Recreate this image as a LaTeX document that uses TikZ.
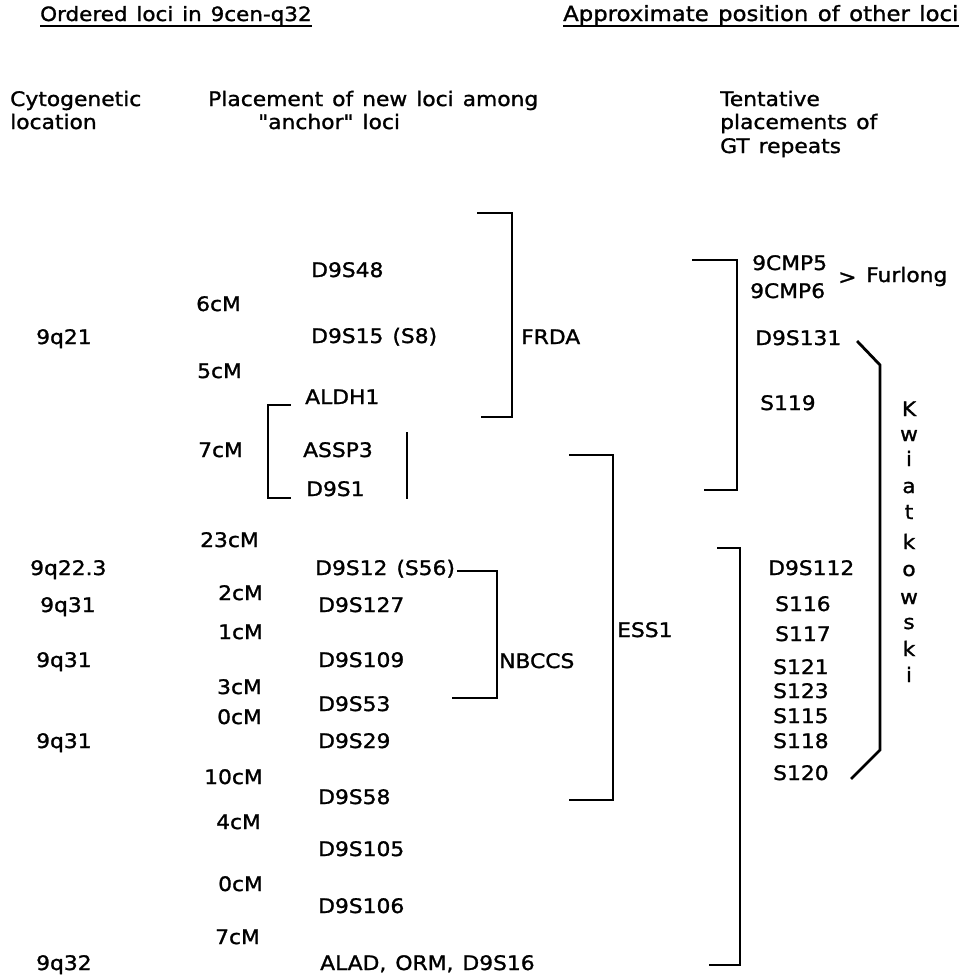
\documentclass[tikz,border=0pt]{standalone}
\usepackage{fontspec}
\setmainfont{DejaVu Sans}[Ligatures=TeXOff,FakeStretch=1.09,FakeBold=1.3,WordSpace=1.3]
\begin{document}
\begin{tikzpicture}[x=1pt,y=-1pt,
  lbl/.style={anchor=base west, inner sep=0pt, font=\fontsize{20}{24}\selectfont},
  ctr/.style={anchor=base, inner sep=0pt, font=\fontsize{20}{24}\selectfont},
  brk/.style={line width=2.8pt, line cap=rect},
  uline/.style={line width=2pt}]
\useasboundingbox (0,0) rectangle (969,975);
% headings
\node[lbl, font=\fontsize{19.7}{24}\selectfont] (h1) at (40,21) {Ordered loci in 9cen-q32};
\path (h1.base west) ++(0,4.5) coordinate (u1a) (h1.base east) ++(0,4.5) coordinate (u1b);
\draw[uline] (u1a) -- (u1b);
\node[lbl, font=\fontsize{20.9}{24}\selectfont] (h2) at (563,21) {Approximate position of other loci};
\path (h2.base west) ++(0,4.5) coordinate (u2a) (h2.base east) ++(0,4.5) coordinate (u2b);
\draw[uline] (u2a) -- (u2b);
% column headers
\node[lbl] (c1a) at (10,106) {Cytogenetic};
\node[lbl] (c1b) at (10,129) {location};
\node[lbl] (c2a) at (208,106) {Placement of new loci among};
\node[lbl] (c2b) at (258,129) {"anchor" loci};
\node[lbl] (c3a) at (720,106) {Tentative};
\node[lbl] (c3b) at (720,129) {placements of};
\node[lbl] (c3c) at (720,153) {GT repeats};
% cytogenetic
\node[lbl] (q21) at (36,344) {9q21};
\node[lbl] (q223) at (30,575) {9q22.3};
\node[lbl] (q31a) at (40,612) {9q31};
\node[lbl] (q31b) at (36,667) {9q31};
\node[lbl] (q31c) at (36,748) {9q31};
\node[lbl] (q32) at (36,970) {9q32};
% distances
\node[lbl] (d6) at (196,311) {6cM};
\node[lbl] (d5) at (197,378) {5cM};
\node[lbl] (d7a) at (198,457) {7cM};
\node[lbl] (d23) at (200,547) {23cM};
\node[lbl] (d2) at (218,600) {2cM};
\node[lbl] (d1) at (218,639) {1cM};
\node[lbl] (d3) at (217,694) {3cM};
\node[lbl] (d0a) at (217,724) {0cM};
\node[lbl] (d10) at (204,784) {10cM};
\node[lbl] (d4) at (216,829) {4cM};
\node[lbl] (d0b) at (218,891) {0cM};
\node[lbl] (d7b) at (215,944) {7cM};
% loci
\node[lbl] (D48) at (311,277) {D9S48};
\node[lbl] (D15) at (311,343) {D9S15 (S8)};
\node[lbl] (ALDH) at (305,404) {ALDH1};
\node[lbl] (ASSP) at (303,457) {ASSP3};
\node[lbl] (D1) at (306,496) {D9S1};
\node[lbl] (D12) at (315,575) {D9S12 (S56)};
\node[lbl] (D127) at (318,612) {D9S127};
\node[lbl] (D109) at (318,667) {D9S109};
\node[lbl] (D53) at (318,711) {D9S53};
\node[lbl] (D29) at (318,748) {D9S29};
\node[lbl] (D58) at (318,804) {D9S58};
\node[lbl] (D105) at (318,856) {D9S105};
\node[lbl] (D106) at (318,913) {D9S106};
\node[lbl] (ALAD) at (320,970) {ALAD, ORM, D9S16};
% gene labels
\node[lbl] (FRDA) at (521,344) {FRDA};
\node[lbl] (NBCCS) at (499,668) {NBCCS};
\node[lbl] (ESS) at (617,637) {ESS1};
% brackets middle
\draw[brk] (290,405) -- (268,405) -- (268,498) -- (290,498);
\draw[brk] (407,433) -- (407,498);
\draw[brk] (478,213) -- (512,213) -- (512,417) -- (482,417);
\draw[brk] (458,571) -- (497,571) -- (497,698) -- (453,698);
\draw[brk] (570,455) -- (613,455) -- (613,800) -- (570,800);
% right column
\node[lbl] (C5) at (752,270) {9CMP5};
\node[lbl] (C6) at (750,298) {9CMP6};
\node[lbl] (gt) at (838,284) {>};
\node[lbl] (Fur) at (866,282) {Furlong};
\node[lbl] (D131) at (755,345) {D9S131};
\node[lbl] (S119) at (760,410) {S119};
\node[lbl] (D112) at (768,575) {D9S112};
\node[lbl] (S116) at (775,611) {S116};
\node[lbl] (S117) at (775,641) {S117};
\node[lbl] (S121) at (773,674) {S121};
\node[lbl] (S123) at (773,698) {S123};
\node[lbl] (S115) at (773,723) {S115};
\node[lbl] (S118) at (773,748) {S118};
\node[lbl] (S120) at (773,780) {S120};
\draw[brk] (693,260) -- (737,260) -- (737,490) -- (705,490);
\draw[brk] (718,548) -- (740,548) -- (740,965) -- (710,965);
\draw[brk] (858,342) -- (880,365) -- (880,750) -- (852,778);
% Kwiatkowski
\foreach \l/\yy [count=\i] in {K/409,w/434,i/459,a/486,t/512,k/542,o/569,w/597,s/622,k/649,i/675}
  \node[ctr] (kw\i) at (909,\yy+7) {\l};
\end{tikzpicture}
\end{document}
